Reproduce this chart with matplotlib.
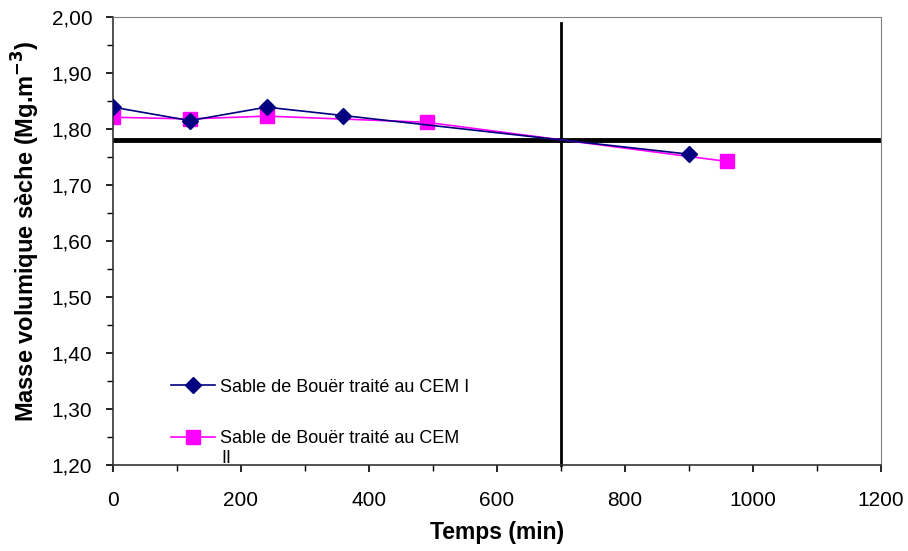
import matplotlib.pyplot as plt
from matplotlib.ticker import MultipleLocator, FuncFormatter

plt.rcParams['font.family'] = ['Liberation Sans', 'DejaVu Sans']

# CEM I
temps_cem1 = [0, 120, 240, 360, 900]
masse_cem1 = [1.839, 1.815, 1.839, 1.824, 1.755]
# CEM II
temps_cem2 = [0, 120, 240, 490, 960]
masse_cem2 = [1.821, 1.818, 1.823, 1.812, 1.742]

ref_masse = 1.78
ref_temps = 700

fig = plt.figure(figsize=(9.08, 5.51), dpi=100)
ax = fig.add_axes([113 / 908, 1 - 465 / 551, 768 / 908, 448 / 551])

ax.axhline(ref_masse, color='black', lw=3.5, zorder=1)
ax.plot([ref_temps, ref_temps], [1.20, 1.989], color='black', lw=2, zorder=1, clip_on=False)

ax.plot(temps_cem1, masse_cem1, color='#000080', lw=1.2, marker='D', ms=8,
        label='Sable de Bouër traité au CEM I', zorder=3)
ax.plot(temps_cem2, masse_cem2, color='#ff00ff', lw=1.2, marker='s', ms=10,
        label='Sable de Bouër traité au CEM', zorder=2)

ax.set_xlim(0, 1200)
ax.set_ylim(1.20, 2.00)
ax.xaxis.set_major_locator(MultipleLocator(200))
ax.xaxis.set_minor_locator(MultipleLocator(100))
ax.yaxis.set_major_locator(MultipleLocator(0.1))
ax.yaxis.set_minor_locator(MultipleLocator(0.05))
ax.yaxis.set_major_formatter(FuncFormatter(lambda v, p: f'{v:.2f}'.replace('.', ',')))
ax.tick_params(axis='both', which='both', direction='out', labelsize=15)
ax.tick_params(axis='both', which='major', length=5, width=1.2)
ax.tick_params(axis='both', which='minor', length=4, width=1)
ax.tick_params(axis='x', pad=14)
ax.tick_params(axis='y', pad=10)

for s in ['top', 'right']:
    ax.spines[s].set_color('#808080')
for s in ['left', 'bottom']:
    ax.spines[s].set_color('#333333')
    ax.spines[s].set_linewidth(1.2)

ax.set_xlabel('Temps (min)', fontsize=16.5, fontweight='bold', labelpad=8)
ax.set_ylabel('Masse volumique sèche (Mg.m$^{\\mathbf{-3}}$)', fontsize=17, fontweight='bold', labelpad=7)
ax.yaxis.label.set_y(0.522)

ax.legend(loc='lower left', bbox_to_anchor=(0.055, 0.004), frameon=False, fontsize=13,
          handlelength=2.4, labelspacing=1.9, handletextpad=0.3)
# wrapped end of the second legend label
ax.text(170, 1.2115, 'II', fontsize=13, va='center', ha='left')

fig.savefig('out.png', dpi=100)
